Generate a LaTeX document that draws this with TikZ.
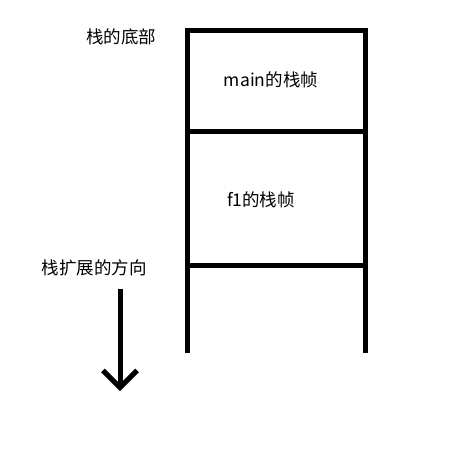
\documentclass[tikz,border=0pt]{standalone}
\usepackage{fontspec}
\setmainfont{Noto Sans CJK SC}
\usetikzlibrary{arrows.meta}

\tikzset{
  wall/.style={line width=5pt, line cap=rect},
  label/.style={font=\fontsize{17.5}{20}\selectfont, inner sep=0pt},
}

\begin{document}
\begin{tikzpicture}[x=1pt,y=-1pt]
		\useasboundingbox (0,0) rectangle (463,449);
		% the stack frames
		\draw[wall] (187,350) -- (187,31) -- (365,31) -- (365,350);
		\draw[wall] (187,132) -- (365,132);
		\draw[wall] (187,265) -- (365,265);
		
		\node[label] (bottom) at (121,37) {栈的底部};
		\node[label] (mainframe) at (271,80) {main的栈帧};
		\node[label] (fframe) at (261,200) {f1的栈帧};
		\node[label] (grow) at (94,268) {栈扩展的方向};
		
		% growth direction
		\coordinate (from) at (120,289);
		\coordinate (to) at (120,391);
		\draw[line width=5pt, -{Straight Barb[length=17pt,width=34pt]}] (from) -- (to);
	\end{tikzpicture}
\end{document}
